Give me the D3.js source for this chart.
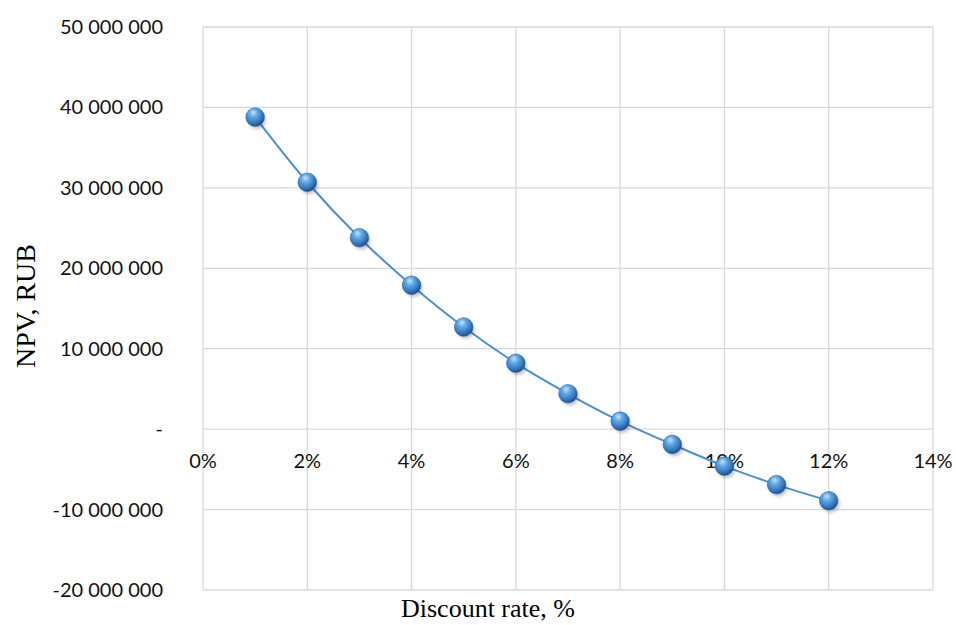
<!DOCTYPE html>
<html><head><meta charset="utf-8">
<script src="https://cdn.jsdelivr.net/npm/d3@7"></script>
<style>body{margin:0;background:#fff}</style>
</head><body>
<svg id="c" width="956" height="625"></svg>
<script>
const rates = [1,2,3,4,5,6,7,8,9,10,11,12];
const npv = [38800000,30700000,23800000,17900000,12700000,8200000,4400000,1000000,-1900000,-4600000,-6900000,-8900000];
const xTicks = [0,2,4,6,8,10,12,14];
const yTicks = [50000000,40000000,30000000,20000000,10000000,0,-10000000,-20000000];
const xTitle = "Discount rate, %";
const yTitle = "NPV, RUB";

const svg = d3.select("#c");
const x = d3.scaleLinear().domain([0,14]).range([203,933]);
const y = d3.scaleLinear().domain([-20000000,50000000]).range([590,27]);

const defs = svg.append("defs");
const g = defs.append("radialGradient").attr("id","ball").attr("cx","40%").attr("cy","35%").attr("r","65%").attr("fx","40%").attr("fy","25%");
g.append("stop").attr("offset","0%").attr("stop-color","#c4e3fa");
g.append("stop").attr("offset","35%").attr("stop-color","#62a8e4");
g.append("stop").attr("offset","80%").attr("stop-color","#2f73b8");
g.append("stop").attr("offset","100%").attr("stop-color","#1f4f85");
const f = defs.append("filter").attr("id","sh").attr("x","-50%").attr("y","-50%").attr("width","200%").attr("height","200%");
f.append("feGaussianBlur").attr("stdDeviation",1.8);

const fmt = v => v === 0 ? "-" : (v<0?"-":"") + d3.format(",")(Math.abs(v)).replace(/,/g," ");
const tickFont = "Lato, 'Open Sans', sans-serif";
const titleFont = "'Liberation Serif','Times New Roman',serif";

// grid
svg.append("g").selectAll("line").data(xTicks).join("line")
  .attr("x1",d=>x(d)).attr("x2",d=>x(d)).attr("y1",y(50000000)).attr("y2",y(-20000000))
  .attr("stroke","#d9d9d9").attr("stroke-width",1.3);
svg.append("g").selectAll("line").data(yTicks).join("line")
  .attr("x1",x(0)).attr("x2",x(14)).attr("y1",d=>y(d)).attr("y2",d=>y(d))
  .attr("stroke","#d9d9d9").attr("stroke-width",1.3);

// y labels
svg.append("g").selectAll("text").data(yTicks).join("text")
  .attr("x",163).attr("y",d=>y(d)).attr("dy","0.35em").attr("text-anchor","end")
  .attr("font-family",tickFont).attr("font-size",20).attr("fill","#111")
  .text(fmt);
// x labels
svg.append("g").selectAll("text").data(xTicks).join("text")
  .attr("x",d=>x(d)).attr("y",y(0)+32).attr("dy","0.35em").attr("text-anchor","middle")
  .attr("font-family",tickFont).attr("font-size",20).attr("fill","#111")
  .text(d=>d+"%");

// line
const pts = rates.map((r,i)=>[r,npv[i]]);
const line = d3.line().x(d=>x(d[0])).y(d=>y(d[1])).curve(d3.curveCatmullRom);
svg.append("path").attr("d",line(pts)).attr("fill","none").attr("stroke","#4a8fd3").attr("stroke-width",2);

// markers
svg.append("g").selectAll("circle").data(pts).join("circle")
  .attr("cx",d=>x(d[0])+2).attr("cy",d=>y(d[1])+3).attr("r",9).attr("fill","rgba(0,0,0,0.22)").attr("filter","url(#sh)");
svg.append("g").selectAll("circle").data(pts).join("circle")
  .attr("cx",d=>x(d[0])).attr("cy",d=>y(d[1])).attr("r",9.3).attr("fill","url(#ball)")
  .attr("stroke","#2a66a8").attr("stroke-width",0.6);

// titles
svg.append("text").attr("x",488).attr("y",617).attr("text-anchor","middle")
  .attr("font-family",titleFont).attr("font-size",26).text(xTitle);
svg.append("text").attr("transform","translate(25,306) rotate(-90)").attr("dy","0.35em").attr("text-anchor","middle")
  .attr("font-family",titleFont).attr("font-size",28).text(yTitle);
</script>
</body></html>
